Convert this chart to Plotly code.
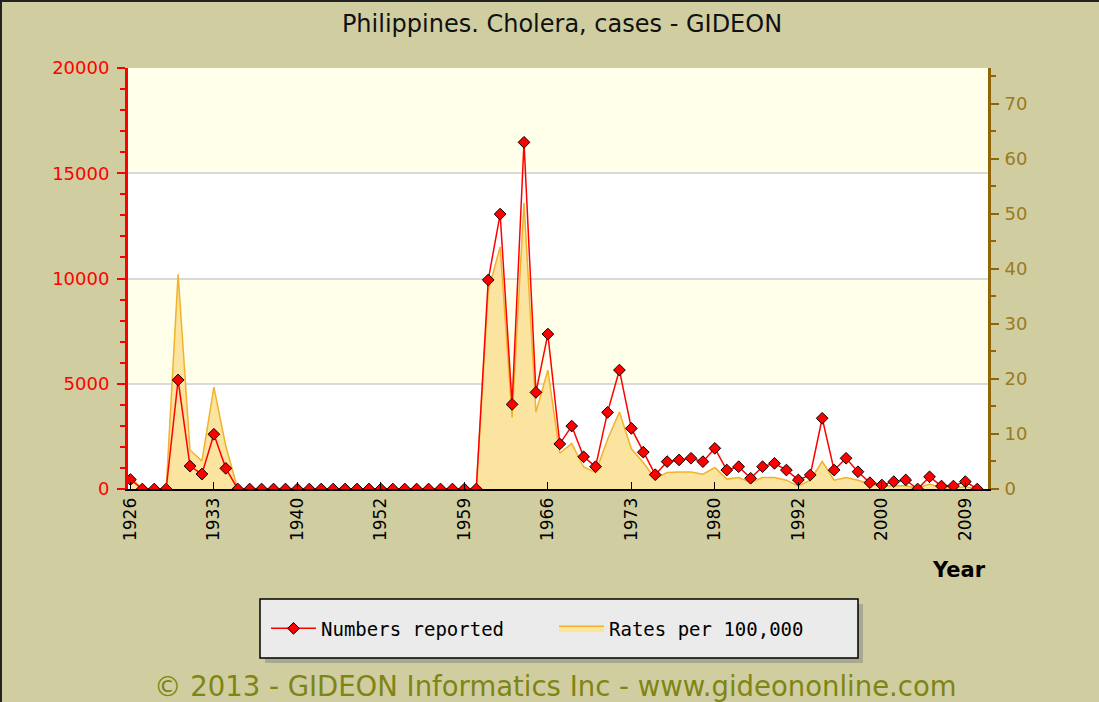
import plotly.graph_objects as go

# ---------------- data ----------------
years = (
    [str(y) for y in range(1926, 1941)]
    + ["1946", "1947", "1948", "1949", "1950", "1951"]
    + [str(y) for y in range(1952, 1981)]
    + ["1981", "1982", "1983", "1984", "1985", "1991"]
    + ["1992", "1993", "1994", "1995", "1996", "1997", "1998"]
    + ["2000", "2002", "2003", "2004", "2005", "2006", "2008"]
    + ["2009", "2010"]
)

numbers_reported = [
    450, 0, 0, 0, 5180, 1090, 710, 2600, 980, 0,
    0, 0, 0, 0, 0, 0, 0, 0, 0, 0,
    0, 0, 0, 0, 0, 0, 0, 0, 0, 0,
    9930, 13060, 4020, 16470, 4590, 7360, 2140, 2990, 1530, 1060,
    3640, 5650, 2880, 1750, 680, 1300, 1380, 1460, 1300, 1930,
    900, 1060, 510, 1060, 1220, 900, 430, 665, 3360, 900,
    1460, 820, 300, 190, 350, 430, 0, 580, 140, 140,
    350, 0,
]

rates_per_100k = [
    2.2, 0, 0, 0, 39, 7.1, 5.1, 18.5, 7.8, 0,
    0, 0, 0, 0, 0, 0, 0, 0, 0, 0,
    0, 0, 0, 0, 0, 0, 0, 0, 0, 0,
    36, 44, 13, 52, 14, 21.6, 6.5, 8.3, 4.0, 3.0,
    9, 14, 7.3, 4.8, 1.9, 3.0, 3.1, 3.1, 2.7, 3.9,
    1.8, 2.1, 1.2, 2.1, 2.1, 1.6, 0.5, 1.6, 5.0, 1.6,
    2.1, 1.6, 0.9, 0.5, 0.6, 0.6, 0.2, 0.9, 0.2, 0.2,
    0.4, 0,
]

tick_years = [years[i] for i in range(0, len(years), 7)]

# ---------------- styling ----------------
PAPER = "#D0CEA0"
RED = "#FF0000"
BROWN = "#8E6508"
BROWN_TXT = "#9A7A22"
BAND = "#FFFFEA"

W, H = 1099, 702
L, R, T, B = 128, 988, 68, 489  # plot area in pixels


def px_x(px):
    return (px - L) / (R - L)


def px_y(py):
    return (B - py) / (B - T)


fig = go.Figure()

fig.add_trace(go.Scatter(
    x=years, y=rates_per_100k, name="Rates per 100,000",
    mode="lines", fill="tozeroy",
    line=dict(color="#F2B22C", width=1.5),
    fillcolor="#FBE3A0",
    yaxis="y", legendrank=2,
))

fig.add_trace(go.Scatter(
    x=years, y=numbers_reported, name="Numbers reported",
    mode="lines+markers",
    line=dict(color=RED, width=1.5),
    marker=dict(symbol="diamond", size=9, color=RED,
                line=dict(color="black", width=1)),
    yaxis="y2", legendrank=1,
))

shapes = []
# alternating background bands
for lo, hi in [(5000, 10000), (15000, 20000)]:
    shapes.append(dict(type="rect", xref="paper", yref="y2", x0=0, x1=1,
                       y0=lo, y1=hi, fillcolor=BAND, line=dict(width=0),
                       layer="below"))
# legend box with shadow
shapes.append(dict(type="rect", xref="paper", yref="paper",
                   x0=px_x(265), x1=px_x(863), y0=px_y(604), y1=px_y(663),
                   fillcolor="#A9A890", line=dict(width=0), layer="above"))
shapes.append(dict(type="rect", xref="paper", yref="paper",
                   x0=px_x(260), x1=px_x(858), y0=px_y(599), y1=px_y(658),
                   fillcolor="#EBEBEB", line=dict(color="black", width=1.5),
                   layer="above"))
# outer border (top / left)
shapes.append(dict(type="line", xref="paper", yref="paper",
                   x0=px_x(0), x1=px_x(W), y0=px_y(1), y1=px_y(1),
                   line=dict(color="#222222", width=2), layer="above"))
shapes.append(dict(type="line", xref="paper", yref="paper",
                   x0=px_x(1), x1=px_x(1), y0=px_y(0), y1=px_y(H),
                   line=dict(color="#222222", width=2), layer="above"))

fig.update_layout(
    width=W, height=H,
    margin=dict(l=L, r=W - R, t=T, b=H - B, pad=0),
    paper_bgcolor=PAPER, plot_bgcolor="white",
    title=dict(text="Philippines. Cholera, cases - GIDEON",
               font=dict(family="DejaVu Sans", size=24, color="#111111"),
               x=px_x(562), xref="paper", xanchor="center",
               y=1 - 24 / H, yref="container", yanchor="middle"),
    xaxis=dict(
        type="category", range=[-0.2, 71.9],
        tickmode="array", tickvals=tick_years, ticktext=tick_years,
        tickangle=-90, ticks="inside", ticklen=7, tickcolor="black",
        tickfont=dict(family="DejaVu Sans", size=17, color="black"),
        showline=True, linecolor="black", linewidth=2,
        showgrid=False, zeroline=False, fixedrange=True,
    ),
    yaxis=dict(
        side="right", range=[0, 76.5], dtick=10, tick0=0,
        ticks="outside", ticklen=8, tickwidth=2, tickcolor=BROWN,
        minor=dict(dtick=5, ticks="outside", ticklen=5, tickwidth=2, tickcolor=BROWN),
        tickfont=dict(family="DejaVu Sans", size=18, color=BROWN_TXT),
        showline=True, linecolor=BROWN, linewidth=3,
        showgrid=False, zeroline=False, ticklabelstandoff=2,
    ),
    yaxis2=dict(
        side="left", overlaying="y", range=[0, 20000], dtick=5000, tick0=0,
        tickformat="d",
        ticks="outside", ticklen=8, tickwidth=2, tickcolor=RED,
        minor=dict(dtick=1000, ticks="outside", ticklen=5, tickwidth=2, tickcolor=RED),
        tickfont=dict(family="DejaVu Sans", size=18, color=RED),
        showline=True, linecolor=RED, linewidth=3,
        showgrid=True, gridcolor="#DADADA", gridwidth=1.5, zeroline=False,
        ticklabelstandoff=4,
    ),
    legend=dict(
        orientation="h", x=px_x(266), xanchor="left",
        y=px_y(628.5), yanchor="middle",
        bgcolor="rgba(0,0,0,0)", borderwidth=0,
        font=dict(family="DejaVu Sans Mono", size=19, color="black"),
        itemwidth=45,
        entrywidth=228, entrywidthmode="pixels",
        traceorder="normal",
    ),
    shapes=shapes,
    annotations=[
        dict(text="<b>Year</b>", xref="paper", yref="paper",
             x=px_x(988), y=px_y(570), xanchor="right", yanchor="middle",
             showarrow=False,
             font=dict(family="DejaVu Sans", size=21, color="black")),
        dict(text="© 2013 - GIDEON Informatics Inc - www.gideononline.com",
             xref="paper", yref="paper",
             x=px_x(555), y=px_y(686), xanchor="center", yanchor="middle",
             showarrow=False,
             font=dict(family="DejaVu Sans", size=27.5, color="#7E8514")),
    ],
    showlegend=True,
)

fig.write_html(
    "out.html",
    config={"displayModeBar": False},
    post_script="document.body.style.margin='0px';"
                "document.body.style.overflow='hidden';"
                "document.body.style.background='" + PAPER + "';",
)
